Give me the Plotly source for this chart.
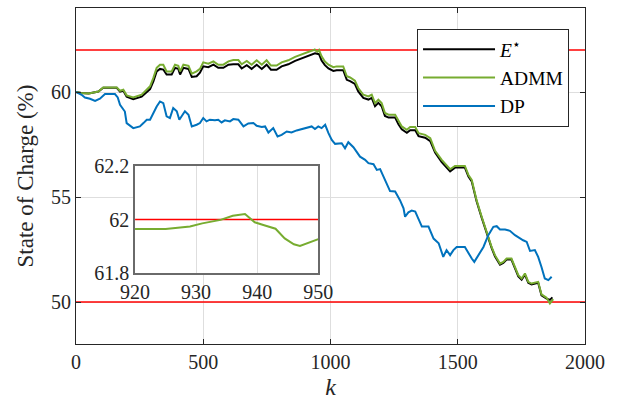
import plotly.graph_objects as go

# ---------------- data ----------------
k_estar = [0, 20, 50, 88, 107, 160, 173, 186, 199, 225, 258, 278, 291, 304, 317, 330, 343, 356, 376,
           389, 402, 409, 422, 442, 455, 474, 487, 500, 520, 540, 559, 579, 599, 618, 638, 651, 671,
           690, 710, 730, 749, 766, 788, 808, 834, 861, 887, 920, 939, 955, 965, 978, 992, 1011, 1024,
           1050, 1064, 1077, 1096, 1109, 1129, 1149, 1162, 1175, 1188, 1201, 1214, 1228, 1254, 1267,
           1280, 1300, 1313, 1333, 1346, 1372, 1392, 1411, 1437, 1470, 1489, 1528, 1542, 1555, 1574,
           1594, 1614, 1633, 1646, 1666, 1679, 1692, 1711, 1724, 1738, 1751, 1764, 1777, 1790, 1816,
           1829, 1849, 1862, 1872]
soc_estar = [60.00, 59.95, 59.93, 60.02, 60.20, 60.20, 60.02, 60.06, 59.78, 59.66, 59.78, 60.00, 60.14,
             60.50, 60.98, 61.10, 61.07, 60.83, 60.83, 61.15, 61.10, 60.83, 61.15, 61.10, 60.72, 60.75,
             60.92, 61.22, 61.18, 61.30, 61.15, 61.15, 61.30, 61.32, 61.32, 61.12, 61.28, 61.10, 61.30,
             61.10, 61.30, 61.06, 61.06, 61.22, 61.32, 61.48, 61.60, 61.78, 61.84, 61.80, 61.50, 61.28,
             61.12, 61.00, 61.04, 61.04, 60.58, 60.52, 60.38, 60.03, 59.72, 59.64, 59.72, 59.32, 59.48,
             59.32, 58.86, 58.78, 58.78, 58.46, 58.22, 58.06, 58.18, 58.18, 57.90, 57.82, 57.66, 57.12,
             56.66, 56.22, 56.40, 56.40, 55.98, 55.74, 54.80, 54.02, 53.22, 52.58, 52.18, 51.78, 51.86,
             52.02, 52.02, 51.62, 51.22, 51.06, 51.30, 50.92, 50.84, 50.92, 50.32, 50.16, 50.10, 50.22]

k_admm = [0, 20, 50, 88, 107, 160, 173, 186, 199, 225, 258, 278, 291, 304, 317, 330, 343, 356, 376,
          389, 402, 409, 422, 442, 455, 474, 487, 500, 520, 540, 559, 579, 599, 618, 638, 651, 671,
          690, 710, 730, 749, 766, 788, 808, 834, 861, 887, 905, 920, 925, 929, 931, 934, 936, 938,
          939.6, 941, 943, 944.5, 946, 947, 948.6, 950, 955, 965, 978, 992, 1011, 1024, 1050, 1064,
          1077, 1096, 1109, 1129, 1149, 1162, 1175, 1188, 1201, 1214, 1228, 1254, 1267, 1280, 1300,
          1313, 1333, 1346, 1372, 1392, 1411, 1437, 1470, 1489, 1528, 1542, 1555, 1574, 1594, 1614,
          1633, 1646, 1666, 1679, 1692, 1711, 1724, 1738, 1751, 1764, 1777, 1790, 1816, 1829, 1849,
          1862, 1875]
soc_admm = [60.00, 59.95, 59.93, 60.02, 60.22, 60.22, 60.06, 60.11, 59.84, 59.74, 59.87, 60.11, 60.27,
            60.67, 61.15, 61.30, 61.30, 60.98, 60.98, 61.30, 61.25, 60.98, 61.30, 61.25, 60.87, 60.98,
            61.10, 61.41, 61.35, 61.46, 61.30, 61.30, 61.46, 61.52, 61.52, 61.32, 61.48, 61.30, 61.51,
            61.30, 61.51, 61.26, 61.26, 61.41, 61.51, 61.67, 61.80, 61.90, 61.965, 61.965, 61.974,
            61.986, 61.999, 62.014, 62.021, 61.99, 61.98, 61.966, 61.93, 61.908, 61.902, 61.914, 61.927,
            62.00, 61.70, 61.45, 61.30, 61.18, 61.22, 61.22, 60.75, 60.69, 60.54, 60.19, 59.87, 59.79,
            59.87, 59.47, 59.63, 59.47, 59.00, 58.92, 58.92, 58.60, 58.36, 58.20, 58.33, 58.33, 58.04,
            57.96, 57.80, 57.20, 56.77, 56.32, 56.48, 56.48, 56.05, 55.81, 54.85, 54.06, 53.26, 52.62,
            52.23, 51.83, 51.91, 52.07, 52.07, 51.67, 51.28, 51.12, 51.36, 50.96, 50.88, 50.96, 50.36,
            50.20, 49.93, 50.14]

k_dp = [0, 22, 35, 55, 75, 94, 114, 153, 164, 173, 192, 199, 225, 251, 265, 278, 291, 304, 317, 330,
        343, 356, 369, 382, 396, 406, 415, 428, 442, 455, 474, 487, 500, 513, 526, 546, 559, 572, 585,
        605, 618, 638, 658, 677, 697, 710, 730, 743, 756, 775, 792, 808, 828, 847, 867, 887, 906, 926,
        939, 952, 965, 979, 992, 1005, 1018, 1044, 1057, 1070, 1090, 1103, 1116, 1136, 1149, 1169,
        1182, 1195, 1208, 1221, 1234, 1254, 1273, 1287, 1293, 1306, 1319, 1333, 1346, 1359, 1385,
        1405, 1425, 1443, 1456, 1470, 1483, 1496, 1528, 1542, 1555, 1565, 1581, 1601, 1620, 1640,
        1653, 1666, 1686, 1705, 1725, 1738, 1757, 1771, 1784, 1803, 1816, 1829, 1842, 1856, 1869]
soc_dp = [60.00, 59.87, 59.74, 59.68, 59.58, 59.68, 59.90, 59.90, 59.74, 59.39, 59.07, 58.52, 58.28,
          58.36, 58.52, 58.68, 58.68, 59.00, 59.31, 59.55, 59.47, 58.84, 58.76, 59.24, 59.08, 58.68,
          58.84, 59.08, 58.92, 58.36, 58.44, 58.52, 58.76, 58.60, 58.68, 58.65, 58.68, 58.55, 58.65,
          58.60, 58.71, 58.68, 58.36, 58.50, 58.52, 58.39, 58.33, 58.36, 58.07, 58.28, 57.88, 57.96,
          58.12, 58.07, 58.17, 58.23, 58.28, 58.36, 58.24, 58.36, 58.28, 58.44, 58.04, 57.72, 57.53,
          57.56, 57.32, 57.61, 57.37, 57.16, 56.92, 56.77, 56.61, 56.56, 56.29, 56.33, 55.97, 55.65,
          55.28, 55.26, 54.85, 54.46, 54.06, 54.27, 54.35, 54.31, 53.98, 53.59, 53.59, 53.02, 52.80,
          52.15, 52.47, 52.23, 52.47, 52.62, 52.62, 52.31, 52.07, 51.91, 52.23, 52.62, 53.18, 53.58,
          53.61, 53.45, 53.45, 53.39, 53.18, 53.07, 52.94, 52.86, 52.43, 52.47, 52.15, 51.67, 51.12,
          51.04, 51.20]

soc_limits = [50, 62]
k_range = [0, 2000]
y_range = [48, 64]
x_ticks = [0, 500, 1000, 1500, 2000]
y_ticks = [50, 55, 60]

inset_k_range = [920, 950]
inset_y_range = [61.8, 62.2]
inset_x_ticks = [920, 930, 940, 950]
inset_y_ticks = [61.8, 62.0, 62.2]
inset_y_labels = ["61.8", "62", "62.2"]
inset_limit = 62

series_names = ["<i>E</i><sup>⋆</sup>", "ADMM", "DP"]
series_colors = ["#000000", "#77AC30", "#0072BD"]

# ---------------- figure ----------------
FONT = '"Liberation Serif", "DejaVu Serif", serif'
AX = "#262626"
GRID = "#dedede"
RED = "#ff0000"

fig = go.Figure()

for lim in soc_limits:
    fig.add_trace(go.Scatter(x=k_range, y=[lim, lim], mode="lines",
                             line=dict(color=RED, width=1.5),
                             showlegend=False, hoverinfo="skip"))

for kx, vy, name, col in zip([k_estar, k_admm, k_dp], [soc_estar, soc_admm, soc_dp],
                             series_names, series_colors):
    fig.add_trace(go.Scatter(x=kx, y=vy, mode="lines", name=name,
                             line=dict(color=col, width=2)))

# inset
fig.add_trace(go.Scatter(x=inset_k_range, y=[inset_limit, inset_limit], mode="lines",
                         xaxis="x2", yaxis="y2", line=dict(color=RED, width=1.5),
                         showlegend=False, hoverinfo="skip"))
fig.add_trace(go.Scatter(x=k_admm, y=soc_admm, mode="lines", xaxis="x2", yaxis="y2",
                         line=dict(color=series_colors[1], width=2), showlegend=False))

fig.update_layout(
    template="none",
    width=619, height=403,
    margin=dict(l=76, r=34, t=8, b=59, autoexpand=False),
    paper_bgcolor="white", plot_bgcolor="white",
    font=dict(family=FONT, size=20, color=AX),
    showlegend=True,
    legend=dict(x=0.67, y=0.9375, xanchor="left", yanchor="top",
                bgcolor="white", bordercolor=AX, borderwidth=1,
                font=dict(family=FONT, size=19.5, color="#000000"),
                itemwidth=72, tracegroupgap=0),
    xaxis=dict(range=k_range, tickvals=x_ticks, showgrid=True, gridcolor=GRID, gridwidth=1,
               showline=True, linecolor=AX, linewidth=1, mirror="ticks", automargin=False,
               ticks="inside", ticklen=5, tickcolor=AX, zeroline=False,
               tickfont=dict(family=FONT, size=20, color=AX),
               title=dict(text="<i>k</i>", font=dict(family=FONT, size=24, color=AX), standoff=6)),
    yaxis=dict(range=y_range, tickvals=y_ticks, showgrid=True, gridcolor=GRID, gridwidth=1,
               showline=True, linecolor=AX, linewidth=1, mirror="ticks", automargin=False,
               ticks="inside", ticklen=5, tickcolor=AX, zeroline=False,
               tickfont=dict(family=FONT, size=20, color=AX),
               title=dict(text="State of Charge (%)", font=dict(family=FONT, size=23, color=AX),
                          standoff=10)),
    xaxis2=dict(domain=[0.116, 0.476], anchor="y2", range=inset_k_range, tickvals=inset_x_ticks,
                showgrid=True, gridcolor=GRID, gridwidth=1, showline=True, linecolor="#6a6a6a",
                linewidth=1.5, mirror=True, ticks="", zeroline=False, automargin=False,
                tickfont=dict(family=FONT, size=20, color=AX)),
    yaxis2=dict(domain=[0.2104, 0.530], anchor="x2", range=inset_y_range, tickvals=inset_y_ticks,
                ticktext=inset_y_labels, showgrid=True, gridcolor=GRID, gridwidth=1, showline=True,
                linecolor="#6a6a6a", linewidth=1.5, mirror=True, ticks="", zeroline=False,
                automargin=False, tickfont=dict(family=FONT, size=20, color=AX)),
)

# remove the default 8px page margin so the figure sits at the window's top-left corner
fig.write_html("out.html", config={"displayModeBar": False},
               post_script="document.body.style.margin='0px';")
